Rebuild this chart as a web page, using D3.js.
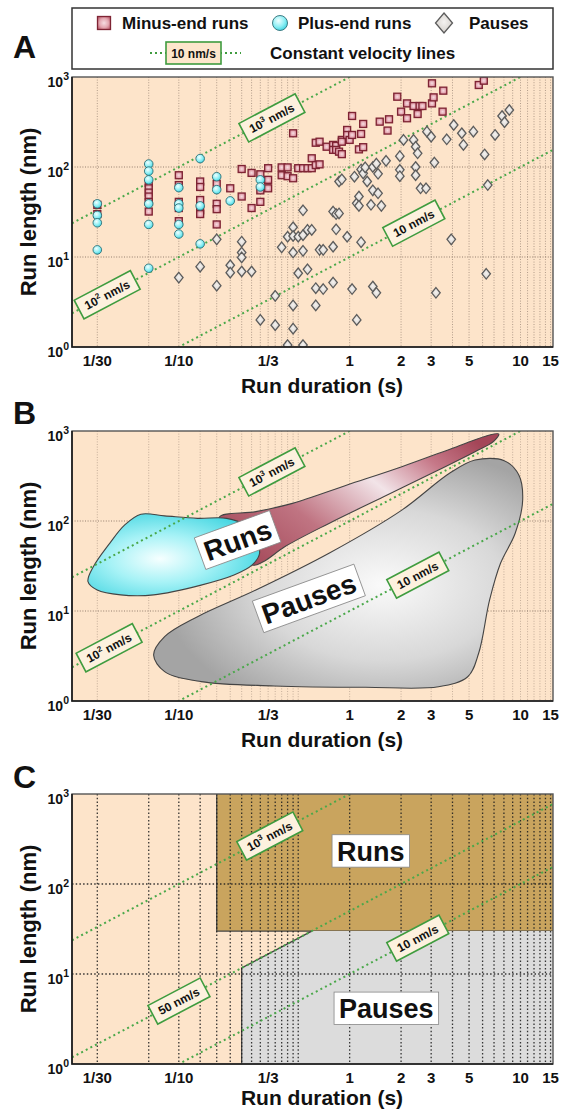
<!DOCTYPE html>
<html><head><meta charset="utf-8">
<script src="https://cdn.jsdelivr.net/npm/d3@7"></script>
<style>
body{margin:0;background:#fff}
svg{display:block}
text{font-family:"Liberation Sans",Arial,Helvetica,sans-serif;font-weight:bold;fill:#111}
</style>
</head><body>
<svg id="chart" width="566" height="1115"></svg>
<script>
// ---------------- DATA ----------------
const FPS = 30; // video frame rate: durations are frame counts / FPS
const xTickValues = [1/30, 1/10, 1/3, 1, 2, 3, 5, 10, 15];
const xTickLabels = ["1/30", "1/10", "1/3", "1", "2", "3", "5", "10", "15"];
const yTickValues = [1, 10, 100, 1000];
const yTickExponents = ["0", "1", "2", "3"];
const gridFrames = [1,2,3,4,5,6,7,8,9,10,11,12,13,14,15];
const gridSeconds = [1,2,3,4,5,6,7,8,9,10,11,12,13,14,15];
const gridLengths = [10, 100];
const panelLetters = ["A", "B", "C"];

// Panel A: [frames, run length nm]
const minusEndRuns = [
  [1,38],[1,30],
  [2,66],[2,58],[2,52],[2,47],[2,41],[2,32],
  [3,81],[3,63],[3,41],[3,35],[3,25],
  [4,69],[4,60],[4,43],[4,33],[4,30],
  [5,65],[5,39],[5,34],[5,23],
  [6,58],[7,95],[7,47],[8,86],[8,35],
  [9,83],[9,55],[9,41],[10,97],[10,72],[10,58],
  [12,99],[12,81],[13,99],[13,79],[14,237],[14,75],[15,97],
  [16,97],[17,97],[18,125],[18,97],[19,186],[19,105],[20,191],[20,107],
  [22,168],[24,176],[24,155],[25,172],[25,155],[26,148],
  [27,200],[27,191],[27,139],[29,258],[29,227],[30,200],[31,369],[31,227],
  [34,157],[35,233],[36,301],[36,166],[45,319],[50,254],[51,339],
  [57,604],[60,412],[65,509],[65,348],[71,476],[75,388],[77,476],[80,476],
  [91,851],[91,509],[93,594],[105,412],[106,705],[171,815],[183,910]
];
const plusEndRuns = [
  [1,39],[1,29],[1,24],[1,12],
  [2,108],[2,90],[2,72],[2,39],[2,23],[2,7.5],
  [3,59],[3,39],[3,35],[3,23],[3,18],
  [4,124],[4,37],[4,14],
  [5,78],[5,56],[6,42],[9,72],[9,60]
];
const pauses = [
  [3,5.9],[4,7.8],[5,15.7],[5,4.8],[6,8.1],[6,6.7],
  [7,14.8],[7,11.2],[7,9.9],[7,6.9],[8,6.9],[9,2.0],
  [11,3.7],[11,1.75],[12,12.8],[13,16.8],[13,1.05],
  [14,21.4],[14,17.1],[14,11.2],[14,2.9],[14,1.6],[15,16.8],[15,6.6],
  [16,33],[16,11.7],[16,17.5],[16,1.05],[17,20],[17,7.3],[18,20],[19,4.5],[19,2.9],
  [20,12],[21,4.4],[21,12],[24,32],[24,13],[24,5.2],[25,30],[25,20.3],
  [26,69],[26,30.5],[27,73],[29,16.8],[31,4.4],[32,78],[33,39.5],[33,2.0],
  [34,47],[34,37],[35,94],[35,14.6],[36,85],[37,99],[38,69],[40,38],
  [41,100],[41,55],[41,4.7],[43,109],[43,4.0],[44,84],[44,51],[46,37],[49,117],
  [59,132],[59,93],[59,79],[62,200],[71,200],[73,168],[73,100],[73,81],
  [75,142],[78,58],[84,58],[85,247],[90,217],[94,112],[96,4.0],
  [111,203],[118,15.7],[122,293],[136,237],[139,176],[159,247],
  [185,138],[189,6.5],[193,63],[213,227],[234,369],[242,314],[258,430]
];

// Constant velocity lines (nm/s) and where their labels sit (s)
const velocitiesAB = [1000, 100, 10];
const labelTimesA = [0.35, 0.038, 2.37];
const labelTimesB = [0.35, 0.039, 2.5];
const velocitiesC = [1000, 50, 10];
const labelTimesC = [0.34, 0.1, 2.5];
const velocityExponents = ["3", "2", null];

// Panel B outlines: [duration s, run length nm]
const plusOutline = [
  [0.0294,21.2],[0.0316,31],[0.0394,56.5],[0.0481,90],[0.060,119],[0.0826,114],
  [0.1286,107],[0.1906,107],[0.2437,90],[0.2826,61.5],[0.297,43.8],[0.269,32.5],
  [0.2104,25.1],[0.135,19.4],[0.0712,15.1],[0.0457,15.1],[0.0333,17.1]
];
const minusOutline = [
  [0.1726,110],[0.2826,127],[0.4624,157],[0.966,251],[2.02,401],[4.24,670],
  [6.59,903],[7.46,926],[6.93,761],[5.42,589],[3.31,369],[1.58,186],
  [0.757,94],[0.419,52],[0.312,35.3],[0.269,32.5],[0.221,61.5]
];
const pauseOutline = [
  [5.42,476],[8.03,468],[9.78,324],[10.3,171],[9.31,73],[7.64,33.9],[6.59,13.2],
  [5.69,3.39],[4.91,1.86],[3.31,1.44],[1.24,1.42],[0.361,1.47],[0.135,1.64],
  [0.0826,2.12],[0.0712,3.24],[0.0826,5.19],[0.1286,8.65],[0.2826,17.1],
  [0.757,43.8],[2.02,132],[3.84,339]
];
const regionLabelsB = [{text:"Runs", t:0.221, L:61.5}, {text:"Pauses", t:0.577, L:13.8}];

// Panel C regions
const runsMinFrames = 5;       // runs region starts at 5 frames
const runsMinLength = 30;      // nm
const pausesMinFrames = 7;     // pauses region starts at 7 frames
const pauseMaxVelocity = 50;   // nm/s
const regionLabelsC = [{text:"Runs", t:1.33, L:233}, {text:"Pauses", t:1.64, L:4.16}];

// ---------------- DRAWING ----------------
const svg = d3.select("#chart");
const plotLeft = 72, plotRight = 553, plotH = 270;
const panelTops = [77, 431, 794];
const tMin = 0.0237, tMax = 15.5;
const x = d3.scaleLog().domain([tMin, tMax]).range([plotLeft, plotRight]);

const defs = svg.append("defs");
function radial(id, stops, cx="40%", cy="40%", r="65%") {
  const g = defs.append("radialGradient").attr("id", id).attr("cx", cx).attr("cy", cy).attr("r", r);
  stops.forEach(s => g.append("stop").attr("offset", s[0]).attr("stop-color", s[1]));
}
radial("sqGrad", [[0,"#f6dde2"],[0.5,"#e4a8b2"],[1,"#b24a5c"]], "50%","50%","70%");
radial("ciGrad", [[0,"#f0ffff"],[0.6,"#8aeef4"],[1,"#3acfdc"]], "40%","35%","70%");
radial("diGrad", [[0,"#f4f2f0"],[0.6,"#dcd8d4"],[1,"#b0aca8"]], "50%","45%","70%");
radial("cyanBlob", [[0,"#f6ffff"],[0.45,"#a6f2f6"],[1,"#3ed4e0"]], "42%","55%","65%");
radial("grayBlob", [[0,"#fafafa"],[0.55,"#d8d8d8"],[1,"#a4a4a4"]], "62%","55%","60%");
const lg = defs.append("linearGradient").attr("id","redBlob").attr("x1","0").attr("x2","1").attr("y1","0.8").attr("y2","0.2");
[[0,"#a54a5a"],[0.3,"#c07482"],[0.6,"#f2e4e8"],[0.82,"#c67888"],[1,"#a44658"]]
  .forEach(s => lg.append("stop").attr("offset", s[0]).attr("stop-color", s[1]));

const bgColor = "#fde4ca";
const green = "#3f9c3f";

function addSup(textSel, base, exp, rest, supSize, dy) {
  textSel.append("tspan").text(base);
  if (exp !== null) textSel.append("tspan").attr("font-size", supSize).attr("dy", -dy).text(exp);
  if (rest) textSel.append("tspan").attr("dy", exp !== null ? dy : 0).text(rest);
}

function squareMark(g, cx, cy, s) {
  g.append("rect").attr("x", cx - s/2).attr("y", cy - s/2).attr("width", s).attr("height", s)
    .attr("fill", "url(#sqGrad)").attr("stroke", "#7e2434").attr("stroke-width", 1.3);
}
function circleMark(g, cx, cy, r) {
  g.append("circle").attr("cx", cx).attr("cy", cy).attr("r", r)
    .attr("fill", "url(#ciGrad)").attr("stroke", "#2e6e76").attr("stroke-width", 0.9);
}
function diamondMark(g, cx, cy, w, h) {
  g.append("path").attr("d", `M${cx},${cy-h/2}L${cx+w/2},${cy}L${cx},${cy+h/2}L${cx-w/2},${cy}Z`)
    .attr("fill", "url(#diGrad)").attr("stroke", "#5c5c5c").attr("stroke-width", 1.3);
}

// ----- Legend -----
const leg = svg.append("g");
leg.append("rect").attr("x", 72).attr("y", 8).attr("width", 481).attr("height", 61)
  .attr("fill", "#fff").attr("stroke", "#333").attr("stroke-width", 1.5);
squareMark(leg, 104, 23, 13);
leg.append("text").attr("x", 122).attr("y", 29).attr("font-size", 17).text("Minus-end runs");
circleMark(leg, 280, 23, 7.5);
leg.append("text").attr("x", 298).attr("y", 29).attr("font-size", 17).text("Plus-end runs");
diamondMark(leg, 444, 23, 17, 20);
leg.append("text").attr("x", 469).attr("y", 29).attr("font-size", 17).text("Pauses");
leg.append("line").attr("x1", 150).attr("x2", 241).attr("y1", 53).attr("y2", 53)
  .attr("stroke", green).attr("stroke-width", 2).attr("stroke-dasharray", "2,3");
leg.append("rect").attr("x", 166).attr("y", 42).attr("width", 55).attr("height", 22)
  .attr("fill", "#fde6cc").attr("stroke", green).attr("stroke-width", 1.6);
leg.append("text").attr("x", 193.5).attr("y", 57.5).attr("text-anchor", "middle").attr("font-size", 12).text("10 nm/s");
leg.append("text").attr("x", 270).attr("y", 59).attr("font-size", 17).text("Constant velocity lines");

// ----- Panels -----
const lineGen = (yS) => d3.line().x(d => x(d[0])).y(d => yS(d[1])).curve(d3.curveCatmullRomClosed.alpha(0.5));

function velocityLabel(g, yS, v, t, exp) {
  const px = x(t), py = yS(v * t);
  const ang = Math.atan2(yS(v * t * 10) - py, x(t * 10) - px) * 180 / Math.PI;
  const gg = g.append("g").attr("transform", `translate(${px},${py}) rotate(${ang})`);
  const rect = gg.append("rect");
  const tx = gg.append("text").attr("text-anchor", "middle").attr("y", 4.3).attr("font-size", 12);
  if (exp) addSup(tx, "10", exp, " nm/s", 8, 5); else tx.text(v + " nm/s");
  const bb = tx.node().getBBox();
  rect.attr("x", bb.x - 7).attr("y", -10.5).attr("width", bb.width + 14).attr("height", 21)
    .attr("fill", "#fdf1de").attr("stroke", green).attr("stroke-width", 1.6);
}

function regionLabel(g, px, py, text, size, rot) {
  const gg = g.append("g").attr("transform", `translate(${px},${py}) rotate(${rot})`);
  const rect = gg.append("rect");
  const tx = gg.append("text").attr("text-anchor", "middle").attr("y", size * 0.36).attr("font-size", size).text(text);
  const bb = tx.node().getBBox();
  rect.attr("x", bb.x - 5).attr("y", -size * 0.6).attr("width", bb.width + 10).attr("height", size * 1.2)
    .attr("fill", "#fff").attr("stroke", "#888").attr("stroke-width", 0.8);
}

panelTops.forEach((top, pi) => {
  const bottom = top + plotH;
  const y = d3.scaleLog().domain([1, 1000]).range([bottom, top]);
  const g = svg.append("g");
  const clipId = "clip" + pi;
  defs.append("clipPath").attr("id", clipId).append("rect")
    .attr("x", plotLeft).attr("y", top).attr("width", plotRight - plotLeft).attr("height", plotH);
  const inner = g.append("g").attr("clip-path", `url(#${clipId})`);

  inner.append("rect").attr("x", plotLeft).attr("y", top).attr("width", plotRight - plotLeft).attr("height", plotH).attr("fill", bgColor);

  if (pi === 2) {
    const rx = x(runsMinFrames / FPS);
    inner.append("rect").attr("x", rx).attr("y", y(1000)).attr("width", plotRight - rx + 5)
      .attr("height", y(runsMinLength) - y(1000)).attr("fill", "#c9a45e");
    inner.append("path").attr("d", `M${rx},${y(1000)}L${rx},${y(runsMinLength)}L${plotRight+5},${y(runsMinLength)}`)
      .attr("fill", "none").attr("stroke", "#444").attr("stroke-width", 1.3);
    const t0 = pausesMinFrames / FPS;
    const t1 = runsMinLength / pauseMaxVelocity;
    const poly = [[t0, 1], [t0, pauseMaxVelocity * t0], [t1, runsMinLength], [tMax, runsMinLength], [tMax, 1]];
    inner.append("path").attr("d", "M" + poly.map(p => `${x(p[0])},${y(p[1])}`).join("L") + "Z")
      .attr("fill", "#dcdcdc");
    inner.append("path").attr("d", `M${x(t0)},${y(1)}L${x(t0)},${y(pauseMaxVelocity*t0)}L${x(t1)},${y(runsMinLength)}`)
      .attr("fill", "none").attr("stroke", "#444").attr("stroke-width", 1.3);
  }

  const gridColor = pi === 2 ? "#222" : "#8e7a6c";
  const gridDash = pi === 2 ? "1.5,2.2" : "1,1.6";
  const gridW = pi === 2 ? 1.3 : 0.9;
  const gridOp = pi === 2 ? 0.9 : (pi === 0 ? 0.75 : 0.55);
  const vt = gridFrames.map(f => f / FPS).concat(gridSeconds).filter(t => t > tMin && t < tMax);
  inner.selectAll(null).data(vt).enter().append("line")
    .attr("x1", d => x(d)).attr("x2", d => x(d)).attr("y1", top).attr("y2", bottom)
    .attr("stroke", gridColor).attr("stroke-width", gridW).attr("stroke-dasharray", gridDash).attr("opacity", gridOp);
  inner.selectAll(null).data(gridLengths).enter().append("line")
    .attr("x1", plotLeft).attr("x2", plotRight).attr("y1", d => y(d)).attr("y2", d => y(d))
    .attr("stroke", pi === 2 ? "#222" : "#6e5a4c").attr("stroke-width", gridW).attr("stroke-dasharray", gridDash).attr("opacity", pi === 2 ? 0.9 : 0.8);

  if (pi === 1) {
    const lgen = lineGen(y);
    inner.append("path").attr("d", lgen(pauseOutline)).attr("fill", "url(#grayBlob)").attr("stroke", "#444").attr("stroke-width", 1.1);
    inner.append("path").attr("d", lgen(minusOutline)).attr("fill", "url(#redBlob)").attr("stroke", "#444").attr("stroke-width", 1.1);
    inner.append("path").attr("d", lgen(plusOutline)).attr("fill", "url(#cyanBlob)").attr("stroke", "#444").attr("stroke-width", 1.1);
  }

  const vels = pi === 2 ? velocitiesC : velocitiesAB;
  const ltimes = pi === 0 ? labelTimesA : (pi === 1 ? labelTimesB : labelTimesC);
  vels.forEach(v => {
    inner.append("line").attr("x1", x(tMin)).attr("y1", y(v * tMin)).attr("x2", x(tMax)).attr("y2", y(v * tMax))
      .attr("stroke", "#4aa84a").attr("stroke-width", 2).attr("stroke-dasharray", "2,3.2");
  });

  if (pi === 0) {
    const dg = inner.append("g");
    pauses.forEach(d => diamondMark(dg, x(d[0] / FPS), y(d[1]), 8.5, 10.5));
    minusEndRuns.forEach(d => squareMark(dg, x(d[0] / FPS), y(d[1]), 7));
    plusEndRuns.forEach(d => circleMark(dg, x(d[0] / FPS), y(d[1]), 4.3));
  }

  vels.forEach((v, i) => {
    const exp = pi === 2 ? (v === 1000 ? "3" : null) : velocityExponents[i];
    velocityLabel(inner, y, v, ltimes[i], exp);
  });

  if (pi === 1) {
    regionLabelsB.forEach(r => regionLabel(inner, x(r.t), y(r.L), r.text, 28, -20));
  }
  if (pi === 2) {
    regionLabelsC.forEach(r => regionLabel(inner, x(r.t), y(r.L), r.text, 27, 0));
  }

  g.append("rect").attr("x", plotLeft).attr("y", top).attr("width", plotRight - plotLeft).attr("height", plotH)
    .attr("fill", "none").attr("stroke", "#555").attr("stroke-width", 1.4);
  g.append("path").attr("d", `M${plotLeft},${top}L${plotLeft},${bottom}L${plotRight},${bottom}`)
    .attr("fill", "none").attr("stroke", "#1a1a1a").attr("stroke-width", 1.6);

  g.selectAll(null).data(xTickValues).enter().append("text")
    .attr("x", d => x(d)).attr("y", bottom + 19).attr("text-anchor", "middle").attr("font-size", 15)
    .text((d, i) => xTickLabels[i]);
  yTickValues.forEach((v, i) => {
    const t = g.append("text").attr("x", 69).attr("y", y(v) + 10).attr("text-anchor", "end").attr("font-size", 14);
    addSup(t, "10", yTickExponents[i], null, 10.5, 7);
  });

  g.append("text").attr("x", 322).attr("y", bottom + (pi === 2 ? 41 : 46)).attr("text-anchor", "middle")
    .attr("font-size", 21).text("Run duration (s)");
  const cy = (top + bottom) / 2;
  g.append("text").attr("transform", `translate(36,${cy}) rotate(-90)`).attr("text-anchor", "middle")
    .attr("font-size", 22).text("Run length (nm)");
  const letterY = [58, 424, 788][pi];
  g.append("text").attr("x", 13).attr("y", letterY).attr("font-size", 32).text(panelLetters[pi]);
});
</script>
</body></html>
